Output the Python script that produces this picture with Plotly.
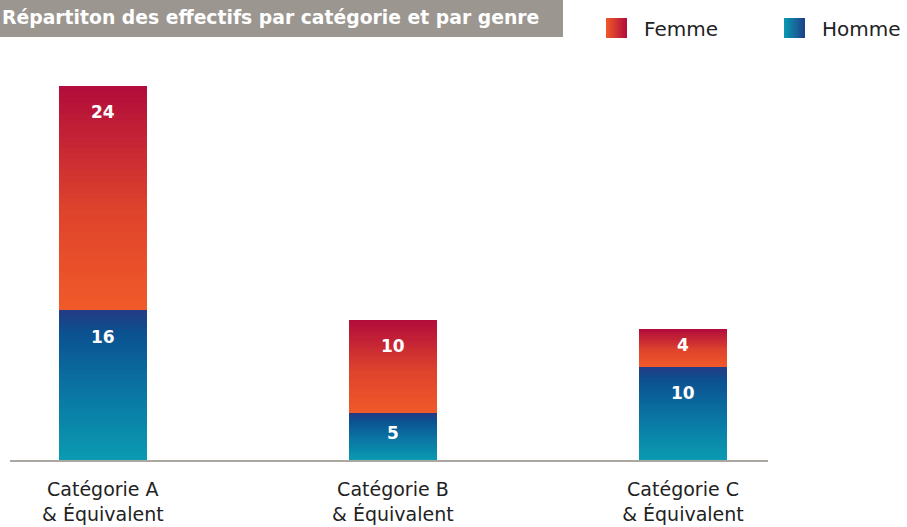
import plotly.graph_objects as go

categories = ["Catégorie A<br>& Équivalent", "Catégorie B<br>& Équivalent", "Catégorie C<br>& Équivalent"]
homme = [16, 5, 10]
femme = [24, 10, 4]
title_text = "Répartiton des effectifs par catégorie et par genre"

FONT = "DejaVu Sans"

def hex2rgb(h):
    h = h.lstrip("#")
    return tuple(int(h[i:i + 2], 16) for i in (0, 2, 4))

def interp(stops, t):
    for (t0, c0), (t1, c1) in zip(stops, stops[1:]):
        if t0 <= t <= t1:
            f = (t - t0) / (t1 - t0) if t1 > t0 else 0
            a, b = hex2rgb(c0), hex2rgb(c1)
            return "rgb(%d,%d,%d)" % tuple(round(a[k] + (b[k] - a[k]) * f) for k in range(3))
    return stops[-1][1]

# gradient stops, bottom (0) -> top (1)
femme_stops = [(0, "#f15a29"), (0.45, "#de432c"), (1, "#b10c3b")]
homme_stops = [(0, "#0a9bb1"), (0.5, "#0a72a2"), (0.85, "#0b5190"), (1, "#243a84")]

N = 40
fig = go.Figure()

def add_segment(values, bases, stops):
    for i in range(N):
        t = (i + 0.5) / N
        fig.add_trace(go.Bar(
            x=categories,
            y=[v / N for v in values],
            base=[b + i * v / N for b, v in zip(bases, values)],
            width=0.303,
            marker=dict(color=interp(stops, t), line=dict(width=0)),
            showlegend=False,
            hoverinfo="skip",
        ))

add_segment(homme, [0, 0, 0], homme_stops)
add_segment(femme, homme, femme_stops)

# value labels
for cat, h, f in zip(categories, homme, femme):
    for val, top in ((h, h), (f, h + f)):
        off = min(2.8, val * 0.42)
        fig.add_annotation(x=cat, y=top - off, text="<b>%d</b>" % val, showarrow=False,
                           font=dict(family=FONT, size=17, color="white"),
                           xanchor="center", yanchor="middle")

W, H = 907, 527
ml, mr, mt, mb = 10, 139, 60, 67
pw, ph = W - ml - mr, H - mt - mb

def px_x(p):
    return (p - ml) / pw

def px_y(p):
    return (H - mb - p) / ph

# title box
fig.add_shape(type="rect", xref="paper", yref="paper",
              x0=px_x(-5), x1=px_x(563), y0=px_y(37), y1=px_y(-5),
              fillcolor="#9b968f", line=dict(width=0), layer="below")
fig.add_annotation(xref="paper", yref="paper", x=px_x(541), y=px_y(17),
                   text="<b>" + title_text + "</b>", showarrow=False,
                   xanchor="right", yanchor="middle",
                   font=dict(family=FONT, size=18.8, color="white"))

# manual legend with horizontal gradient squares
def legend_square(x0, y0, size, stops_lr):
    strips = 11
    for k in range(strips):
        t = (k + 0.5) / strips
        fig.add_shape(type="rect", xref="paper", yref="paper",
                      x0=px_x(x0 + k * size / strips),
                      x1=px_x(min(x0 + size, x0 + (k + 1) * size / strips + 1)),
                      y0=px_y(y0 + size - 1), y1=px_y(y0),
                      fillcolor=interp(stops_lr, t), line=dict(width=0))

legend_square(606, 18, 21, [(0, "#f15a29"), (1, "#b10c3b")])
legend_square(784, 18, 21, [(0, "#0a9bb1"), (1, "#1e3f87")])
fig.add_annotation(xref="paper", yref="paper", x=px_x(642), y=px_y(29), text="Femme",
                   showarrow=False, xanchor="left", yanchor="middle",
                   font=dict(family=FONT, size=20, color="#222222"))
fig.add_annotation(xref="paper", yref="paper", x=px_x(820), y=px_y(29), text="Homme",
                   showarrow=False, xanchor="left", yanchor="middle",
                   font=dict(family=FONT, size=20, color="#222222"))

fig.update_layout(
    width=W, height=H,
    margin=dict(l=ml, r=mr, t=mt, b=mb, pad=0),
    barmode="overlay",
    bargap=0,
    plot_bgcolor="white", paper_bgcolor="white",
    showlegend=False,
    xaxis=dict(type="category", range=[-0.32, 2.293], showgrid=False, zeroline=False,
               showline=True, linecolor="#aca8a1", linewidth=2, ticks="",
               ticklabelstandoff=11, automargin=False,
               tickfont=dict(family=FONT, size=19, color="#222222")),
    yaxis=dict(range=[0, 42.8], visible=False, showgrid=False, zeroline=False,
               automargin=False),
)

fig.write_html("out.html", config={"displayModeBar": False},
               post_script="document.body.style.margin='0';")
